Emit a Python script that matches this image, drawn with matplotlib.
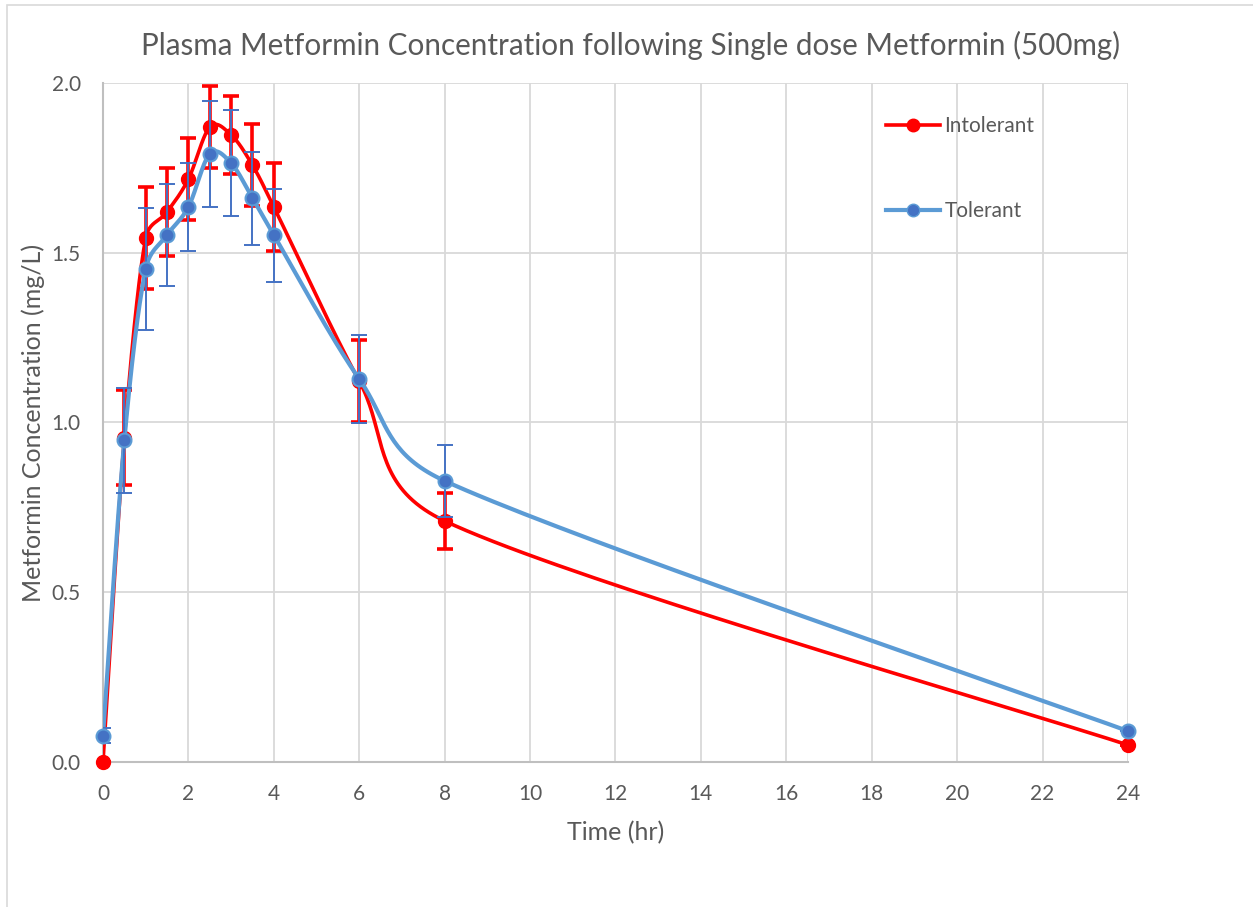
import numpy as np
import matplotlib
matplotlib.use("Agg")
import matplotlib.pyplot as plt
from matplotlib.lines import Line2D
from matplotlib.patches import Rectangle

plt.rcParams['font.family'] = ['Lato', 'DejaVu Sans']

# Sampling times (hr)
time = [0, 0.5, 1, 1.5, 2, 2.5, 3, 3.5, 4, 6, 8, 24]

# Intolerant group: mean and error
intolerant = [0.0, 0.955, 1.543, 1.62, 1.717, 1.870, 1.847, 1.758, 1.635, 1.122, 0.710, 0.050]
intolerant_err = [0.0, 0.14, 0.15, 0.13, 0.12, 0.12, 0.115, 0.12, 0.13, 0.122, 0.082, 0.0]

# Tolerant group: mean and error
tolerant = [0.077, 0.948, 1.452, 1.552, 1.635, 1.791, 1.764, 1.661, 1.552, 1.128, 0.828, 0.091]
tolerant_err = [0.022, 0.155, 0.18, 0.15, 0.13, 0.155, 0.155, 0.137, 0.137, 0.13, 0.107, 0.0]

RED = '#FF0000'
BLUE_LINE = '#5B9BD5'
BLUE_DARK = '#4472C4'
GRAY_TXT = '#595959'


def smooth_curve(ax, x, y, n=40):
    # Excel-like smoothed line, built in screen space: cubic Bezier segments,
    # control arm = (next - prev)/6, capped at half the segment length
    pts = ax.transData.transform(np.column_stack([x, y]).astype(float))
    out = [pts[:1]]
    t = np.linspace(0, 1, n)[1:, None]
    for i in range(len(pts) - 1):
        p0 = pts[i - 1] if i > 0 else pts[i]
        p1, p2 = pts[i], pts[i + 1]
        p3 = pts[i + 2] if i + 2 < len(pts) else pts[i + 1]
        d12 = np.hypot(*(p2 - p1))
        d02 = np.hypot(*(p2 - p0))
        d13 = np.hypot(*(p3 - p1))
        f0 = 1 / 6 if d02 / 6 < d12 / 2 else d12 / d02 / 2
        f1 = 1 / 6 if d13 / 6 < d12 / 2 else d12 / d13 / 2
        c1 = p1 + (p2 - p0) * f0
        c2 = p2 - (p3 - p1) * f1
        seg = ((1 - t) ** 3 * p1 + 3 * (1 - t) ** 2 * t * c1
               + 3 * (1 - t) * t ** 2 * c2 + t ** 3 * p2)
        out.append(seg)
    c = ax.transData.inverted().transform(np.vstack(out))
    return c[:, 0], c[:, 1]


fig = plt.figure(figsize=(12.53, 9.07), dpi=100)
ax = fig.add_axes([0.0822, 0.1599, 0.818, 0.7486])
ax.set_xlim(0, 24)
ax.set_ylim(0, 2.0)

# Intolerant
cx, cy = smooth_curve(ax, time, intolerant)
ax.plot(cx, cy, color=RED, lw=2.6, zorder=3)
ax.errorbar(time, intolerant, yerr=intolerant_err, fmt='none', ecolor=RED,
            elinewidth=2.6, capsize=6, capthick=2.6, zorder=3)
ax.plot(time, intolerant, 'o', color=RED, ms=10, zorder=4, clip_on=False)

# Tolerant
cx, cy = smooth_curve(ax, time, tolerant)
ax.plot(cx, cy, color=BLUE_LINE, lw=3.0, zorder=5)
ax.errorbar(time, tolerant, yerr=tolerant_err, fmt='none', ecolor=BLUE_DARK,
            elinewidth=1.4, capsize=6, capthick=1.4, zorder=5)
ax.plot(time, tolerant, 'o', color=BLUE_DARK, mec=BLUE_LINE, mew=1.5, ms=10, zorder=6,
        clip_on=False)

ax.set_xticks(np.arange(0, 25, 2))
ax.set_yticks(np.arange(0, 2.01, 0.5))
ax.yaxis.set_major_formatter(matplotlib.ticker.FormatStrFormatter('%.1f'))
ax.grid(True, color='#d9d9d9', lw=1.3, zorder=0)
ax.set_axisbelow(True)
for s in ['top', 'right']:
    ax.spines[s].set_visible(False)
for s in ['left', 'bottom']:
    ax.spines[s].set_color('#bfbfbf')
    ax.spines[s].set_linewidth(1.5)
ax.tick_params(length=0, labelsize=15, labelcolor=GRAY_TXT)
ax.tick_params(axis='x', pad=16)
ax.tick_params(axis='y', pad=16)

ax.set_xlabel('Time (hr)', fontsize=18, color=GRAY_TXT, labelpad=12)
ax.set_ylabel('Metformin Concentration (mg/L)', fontsize=18, color=GRAY_TXT, labelpad=5)
fig.text(0.503, 0.950, 'Plasma Metformin Concentration following Single dose Metformin (500mg)',
         ha='center', va='center', fontsize=21.3, color=GRAY_TXT)

handles = [
    Line2D([], [], color=RED, lw=2.6, marker='o', ms=9),
    Line2D([], [], color=BLUE_LINE, lw=3.0, marker='o', ms=9, mfc=BLUE_DARK, mec=BLUE_LINE),
]
ax.legend(handles, ['Intolerant', 'Tolerant'], loc='upper left', bbox_to_anchor=(0.764, 0.951),
          frameon=False, fontsize=15, labelspacing=3.1, handlelength=2.6,
          handletextpad=0.2, borderpad=0, borderaxespad=0, labelcolor=GRAY_TXT)

# chart border
fig.patches.append(Rectangle((0.0056, -0.01), 1.0, 1.0045, transform=fig.transFigure,
                             fill=False, edgecolor='#d9d9d9', lw=1.2))

fig.savefig('out.png', dpi=100)
